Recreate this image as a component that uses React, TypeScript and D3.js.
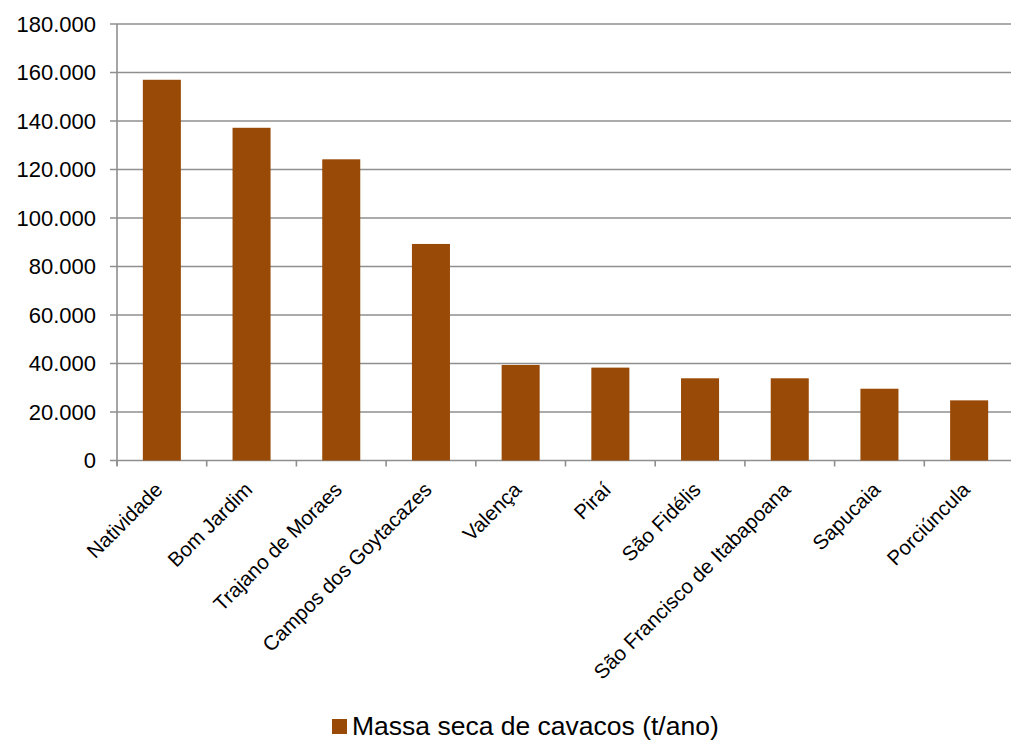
import * as d3 from 'd3'
import { FC } from 'react'

// chart data
const municipios = [
  'Natividade',
  'Bom Jardim',
  'Trajano de Moraes',
  'Campos dos Goytacazes',
  'Valença',
  'Piraí',
  'São Fidélis',
  'São Francisco de Itabapoana',
  'Sapucaia',
  'Porciúncula',
]
const massaSeca = [157000, 137200, 124200, 89300, 39400, 38300, 33900, 33900, 29600, 24800]
const yTicks = [0, 20000, 40000, 60000, 80000, 100000, 120000, 140000, 160000, 180000]
const serieNome = 'Massa seca de cavacos (t/ano)'

const width = 1011
const height = 740
const margin = { top: 24, left: 117, right: -3, bottom: 280 }
const barColor = '#994a07'
const gridColor = '#8f8f8f'
const font = 'Liberation Sans, Arial, sans-serif'

const fmt = (v: number) => (v === 0 ? '0' : d3.format(',')(v).replace(/,/g, '.'))

const App: FC = () => {
  const x = d3
    .scaleBand<string>()
    .domain(municipios)
    .range([margin.left, width - margin.right])
    .paddingInner(0.576)
    .paddingOuter(0.288)
  const band = d3.scaleBand<string>().domain(municipios).range([margin.left, width - margin.right])
  const y = d3
    .scaleLinear()
    .domain([0, 180000])
    .range([height - margin.bottom + 0.5, margin.top])

  const y0 = y(0)

  return (
    <svg
      width={width}
      height={height}
      style={{ position: 'absolute', left: 0, top: 0, background: '#fff' }}
      fontFamily={font}
    >
      {/* grid + y ticks */}
      {yTicks.map((t) => (
        <g key={t}>
          <line x1={margin.left - 7} x2={width} y1={y(t)} y2={y(t)} stroke={gridColor} strokeWidth={1.6} />
          <text x={96} y={y(t)} dy="0.35em" textAnchor="end" fontSize={22} fill="#000">
            {fmt(t)}
          </text>
        </g>
      ))}
      {/* y axis line */}
      <line x1={margin.left} x2={margin.left} y1={y(180000)} y2={y0 + 5} stroke={gridColor} strokeWidth={1.6} />
      {/* x tick marks at band boundaries */}
      {municipios.map((m) => (
        <line
          key={m}
          x1={band(m)!}
          x2={band(m)!}
          y1={y0}
          y2={y0 + 6}
          stroke={gridColor}
          strokeWidth={1.6}
        />
      ))}
      {/* bars */}
      {municipios.map((m, i) => (
        <rect key={m} x={x(m)} y={y(massaSeca[i])} width={x.bandwidth()} height={y0 - y(massaSeca[i])} fill={barColor} />
      ))}
      {/* x labels */}
      {municipios.map((m) => {
        const cx = band(m)! + band.bandwidth() / 2
        return (
          <text
            key={m}
            transform={`translate(${cx + 2}, 491) rotate(-45)`}
            textAnchor="end"
            fontSize={20.5}
            fill="#000"
          >
            {m}
          </text>
        )
      })}
      {/* legend */}
      <rect x={332} y={719} width={15} height={15} fill={barColor} />
      <text x={352} y={735} fontSize={26.5} fill="#000">
        {serieNome}
      </text>
    </svg>
  )
}

export default App
